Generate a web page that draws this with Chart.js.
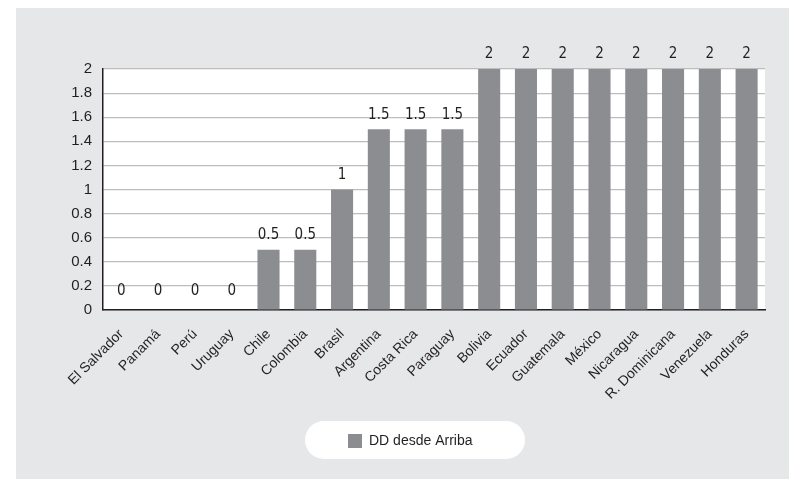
<!DOCTYPE html>
<html>
<head>
<meta charset="utf-8">
<script src="https://cdn.jsdelivr.net/npm/chart.js@4"></script>
<style>
  html, body { margin: 0; padding: 0; background: #ffffff; }
  #wrap { position: absolute; left: 16px; top: 8px; width: 773px; height: 471px; background: #e6e7e8; }
</style>
</head>
<body>
<div id="wrap"><canvas id="chart"></canvas></div>
<script>
// Countries, in display order
const categories = ['El Salvador', 'Panamá', 'Perú', 'Uruguay', 'Chile', 'Colombia', 'Brasil',
  'Argentina', 'Costa Rica', 'Paraguay', 'Bolivia', 'Ecuador', 'Guatemala', 'México',
  'Nicaragua', 'R. Dominicana', 'Venezuela', 'Honduras'];
// Score "DD desde Arriba"
const ddDesdeArriba = [0, 0, 0, 0, 0.5, 0.5, 1, 1.5, 1.5, 1.5, 2, 2, 2, 2, 2, 2, 2, 2];
const seriesName = 'DD desde Arriba';
// Y axis ticks
const yTicks = [0, 0.2, 0.4, 0.6, 0.8, 1, 1.2, 1.4, 1.6, 1.8, 2];

const TEXT = '#231f20';
const BAR = '#8c8d91';

// Background pill behind the legend, white plot area
const legendPill = {
  id: 'legendPill',
  afterLayout(chart) {
    const lg = chart.legend;
    if (lg) { lg.left = 322; }
  },
  beforeDraw(chart) {
    const ctx = chart.ctx;
    const x = 289, y = 413, w = 220, h = 38, r = 19;
    ctx.save();
    ctx.fillStyle = '#ffffff';
    ctx.beginPath();
    ctx.moveTo(x + r, y);
    ctx.lineTo(x + w - r, y);
    ctx.arc(x + w - r, y + r, r, -Math.PI / 2, Math.PI / 2);
    ctx.lineTo(x + r, y + h);
    ctx.arc(x + r, y + r, r, Math.PI / 2, Math.PI * 1.5);
    ctx.closePath();
    ctx.fill();
    const a = chart.chartArea;
    ctx.fillRect(a.left, a.top, a.right - a.left, a.bottom - a.top);
    ctx.restore();
  }
};

// Value labels above each bar
const valueLabels = {
  id: 'valueLabels',
  afterDatasetsDraw(chart) {
    const ctx = chart.ctx;
    const meta = chart.getDatasetMeta(0);
    const data = chart.data.datasets[0].data;
    ctx.save();
    ctx.font = '15px "Liberation Sans Narrow", "DejaVu Sans Condensed", sans-serif';
    ctx.fillStyle = TEXT;
    ctx.textAlign = 'center';
    ctx.textBaseline = 'bottom';
    meta.data.forEach((bar, i) => {
      const off = data[i] === 0 ? 11 : 7;
      ctx.fillText(String(data[i]), bar.x, bar.y - off);
    });
    ctx.restore();
  }
};

new Chart(document.getElementById('chart'), {
  type: 'bar',
  data: {
    labels: categories,
    datasets: [{
      label: seriesName,
      data: ddDesdeArriba,
      backgroundColor: BAR,
      borderWidth: 0,
      barPercentage: 0.6,
      categoryPercentage: 1.0
    }]
  },
  options: {
    responsive: true,
    maintainAspectRatio: false,
    animation: false,
    devicePixelRatio: 1,
    layout: { padding: { left: 0, right: 24, top: 61, bottom: 21 } },
    plugins: {
      tooltip: { enabled: false },
      legend: {
        position: 'bottom',
        align: 'start',
        labels: {
          boxWidth: 14,
          boxHeight: 14,
          padding: 10,
          color: TEXT,
          font: { family: '"Liberation Sans", Arial, sans-serif', size: 14 }
        }
      }
    },
    scales: {
      x: {
        grid: { display: false, drawTicks: false },
        border: { color: '#231f20', width: 1.5 },
        ticks: {
          autoSkip: false,
          minRotation: 45,
          maxRotation: 45,
          padding: 16,
          color: TEXT,
          font: { family: '"Liberation Sans", Arial, sans-serif', size: 14 }
        },
        afterFit(scale) { scale.height = 114; }
      },
      y: {
        min: 0,
        max: 2,
        afterBuildTicks(scale) { scale.ticks = yTicks.map(v => ({ value: v })); },
        grid: { color: '#bdbdbd', lineWidth: 1.2, drawTicks: false },
        border: { color: '#231f20', width: 1.5 },
        ticks: {
          padding: 11,
          color: TEXT,
          font: { family: '"Liberation Sans", Arial, sans-serif', size: 15 },
          callback: v => String(+(+v).toFixed(1))
        },
        afterFit(scale) { scale.width = 87; }
      }
    }
  },
  plugins: [legendPill, valueLabels]
});
</script>
</body>
</html>
